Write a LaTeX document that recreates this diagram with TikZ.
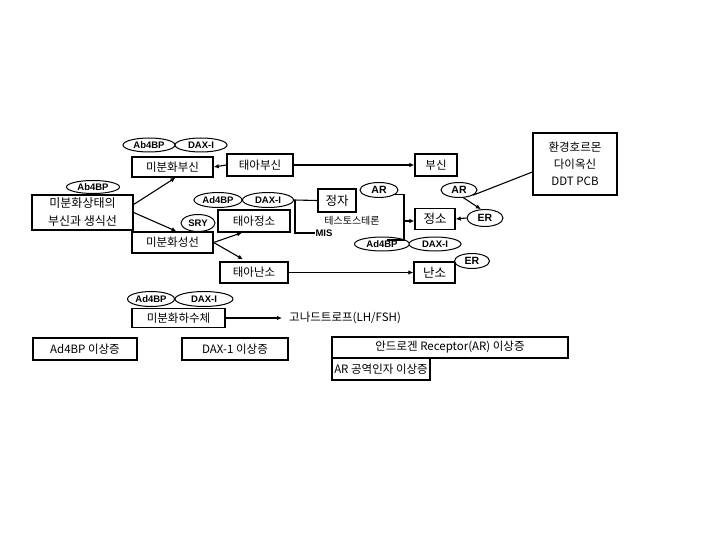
\documentclass[tikz,border=0pt]{standalone}
\usepackage{fontspec}
\setmainfont{Noto Sans CJK KR}
\newfontfamily\lat{Liberation Sans}
\usetikzlibrary{shapes.geometric,arrows.meta,calc}
\begin{document}
\begin{tikzpicture}[x=1pt,y=-1pt,
  box/.style={draw, line width=1.3pt, inner sep=0pt, fill=white, align=center, font=\fontsize{11.5}{12}\selectfont},
  oval/.style={draw, ellipse, line width=1pt, inner sep=0pt, fill=white, minimum height=14pt, font=\lat\bfseries\fontsize{9.5}{10}\selectfont},
  ln/.style={line width=1.1pt},
  arr/.style={ln, -{Latex[length=5pt,width=4.5pt]}},
  lbl/.style={inner sep=0pt}
]
\useasboundingbox (0,0) rectangle (720,540);

% boxes
\node[box, minimum width=81pt, minimum height=20pt] (mbs) at (172.5,167) {미분화부신};
\node[box, minimum width=66pt, minimum height=22pt] (tabs) at (260,165) {태아부신};
\node[box, minimum width=42pt, minimum height=22pt] (bs) at (436,165) {부신};
\node[box, minimum width=101pt, minimum height=35pt, font=\fontsize{12}{18}\selectfont] (mst) at (82.5,212.5) {미분화상태의\\부신과 생식선};
\node[box, minimum width=81pt, minimum height=21pt] (msg) at (172.5,242.5) {미분화성선};
\node[box, minimum width=72pt, minimum height=22pt] (tjs) at (254,221) {태아정소};
\node[box, minimum width=68pt, minimum height=21pt] (tns) at (254,272.5) {태아난소};
\node[box, minimum width=38pt, minimum height=23pt, font=\fontsize{12.5}{13}\selectfont] (jj) at (337,200.5) {정자};
\node[box, minimum width=40pt, minimum height=21pt, font=\fontsize{12.5}{13}\selectfont] (js) at (435,219) {정소};
\node[box, minimum width=84pt, minimum height=62pt, font=\fontsize{11.5}{17}\selectfont] (env) at (575,164) {환경호르몬\\다이옥신\\DDT PCB};
\node[box, minimum width=41pt, minimum height=21pt, font=\fontsize{12.5}{13}\selectfont] (ns) at (434.5,272.5) {난소};
\node[box, minimum width=93pt, minimum height=19pt] (mhs) at (178.5,318) {미분화하수체};
\node[box, minimum width=104pt, minimum height=22pt] (e1) at (85,349) {Ad4BP 이상증};
\node[box, minimum width=106pt, minimum height=22pt] (e2) at (235,349) {DAX-1 이상증};
\node[box, minimum width=236pt, minimum height=21pt] (e3) at (450,347.5) {안드로겐 Receptor(AR) 이상증};
\node[box, minimum width=98pt, minimum height=22pt] (e4) at (381,369) {AR 공역인자 이상증};

% ellipses
\node[oval, minimum width=52pt] (ab1) at (149,145) {Ab4BP};
\node[oval, minimum width=52pt] (dx1) at (201,145) {DAX-I};
\node[oval, minimum width=53pt, minimum height=13pt] (ab2) at (93,187) {Ab4BP};
\node[oval, minimum width=48pt, minimum height=15pt] (ad2) at (218,200) {Ad4BP};
\node[oval, minimum width=51pt, minimum height=15pt] (dx2) at (268,200) {DAX-I};
\node[oval, minimum width=34pt, minimum height=17pt] (sry) at (198,223) {SRY};
\node[oval, minimum width=38pt, minimum height=15pt, font=\lat\bfseries\fontsize{10.5}{11}\selectfont] (ar1) at (379,190) {AR};
\node[oval, minimum width=36pt, minimum height=15pt, font=\lat\bfseries\fontsize{10.5}{11}\selectfont] (ar2) at (459,190) {AR};
\node[oval, minimum width=36pt, minimum height=17pt, font=\lat\bfseries\fontsize{10.5}{11}\selectfont] (er1) at (485,218) {ER};
\node[oval, minimum width=55pt] (ad3) at (382,244) {Ad4BP};
\node[oval, minimum width=52pt] (dx3) at (435,244) {DAX-I};
\node[oval, minimum width=35pt, minimum height=15pt, font=\lat\bfseries\fontsize{10.5}{11}\selectfont] (er2) at (472,261) {ER};
\node[oval, minimum width=47pt, minimum height=15pt] (ad4) at (151,299) {Ad4BP};
\node[oval, minimum width=58pt, minimum height=15pt] (dx4) at (204,299) {DAX-I};

% text labels
\node[lbl, font=\fontsize{10}{10}\selectfont] (tst) at (352,221) {테스토스테론};
\node[lbl, font=\lat\bfseries\fontsize{9.5}{10}\selectfont] (mis) at (324,233) {MIS};
\node[inner xsep=7pt, inner ysep=0pt, anchor=west, font=\fontsize{11.5}{12}\selectfont] (gona) at (282,318) {고나드트로프(LH/FSH)};

% connectors
\draw[arr] (tabs.west) -- (mbs.east);
\draw[arr] (tabs.east) -- (bs.west);
\draw[arr] ($(mst.east)+(0,-8)$) -- ($(mbs.south)+(3,0)$);
\draw[arr] ($(mst.east)+(0,0)$) -- ($(msg.north)+(4,0)$);
\draw[arr] (msg.east) -- ($(tjs.south)+(-12,0)$);
\draw[arr] (msg.east) -- ($(tns.north)+(-11,-2)$);
\draw[ln] (dx2.east) -- (jj.west);
\draw[ln] ($(dx2.east)+(1,0)$) |- (mis.west);
\coordinate (bb) at (404,240);
\coordinate (be) at (387,240);
\coordinate (bm) at (404,221);
\draw[ln] (ar1.-15) -| (bb) -- (be);
\draw[arr] (bm) -- (bm -| js.west);
\draw[ln] ($(env.west)+(0,8)$) -- (ar2.-20);
\draw[arr] (ar2.-60) -- (er1.115);
\draw[arr] (er1.west) -- (js.east);
\draw[arr] (tns.east) -- (ns.west);
\draw[arr] (mhs.east) -- (gona.west);
\end{tikzpicture}
\end{document}
